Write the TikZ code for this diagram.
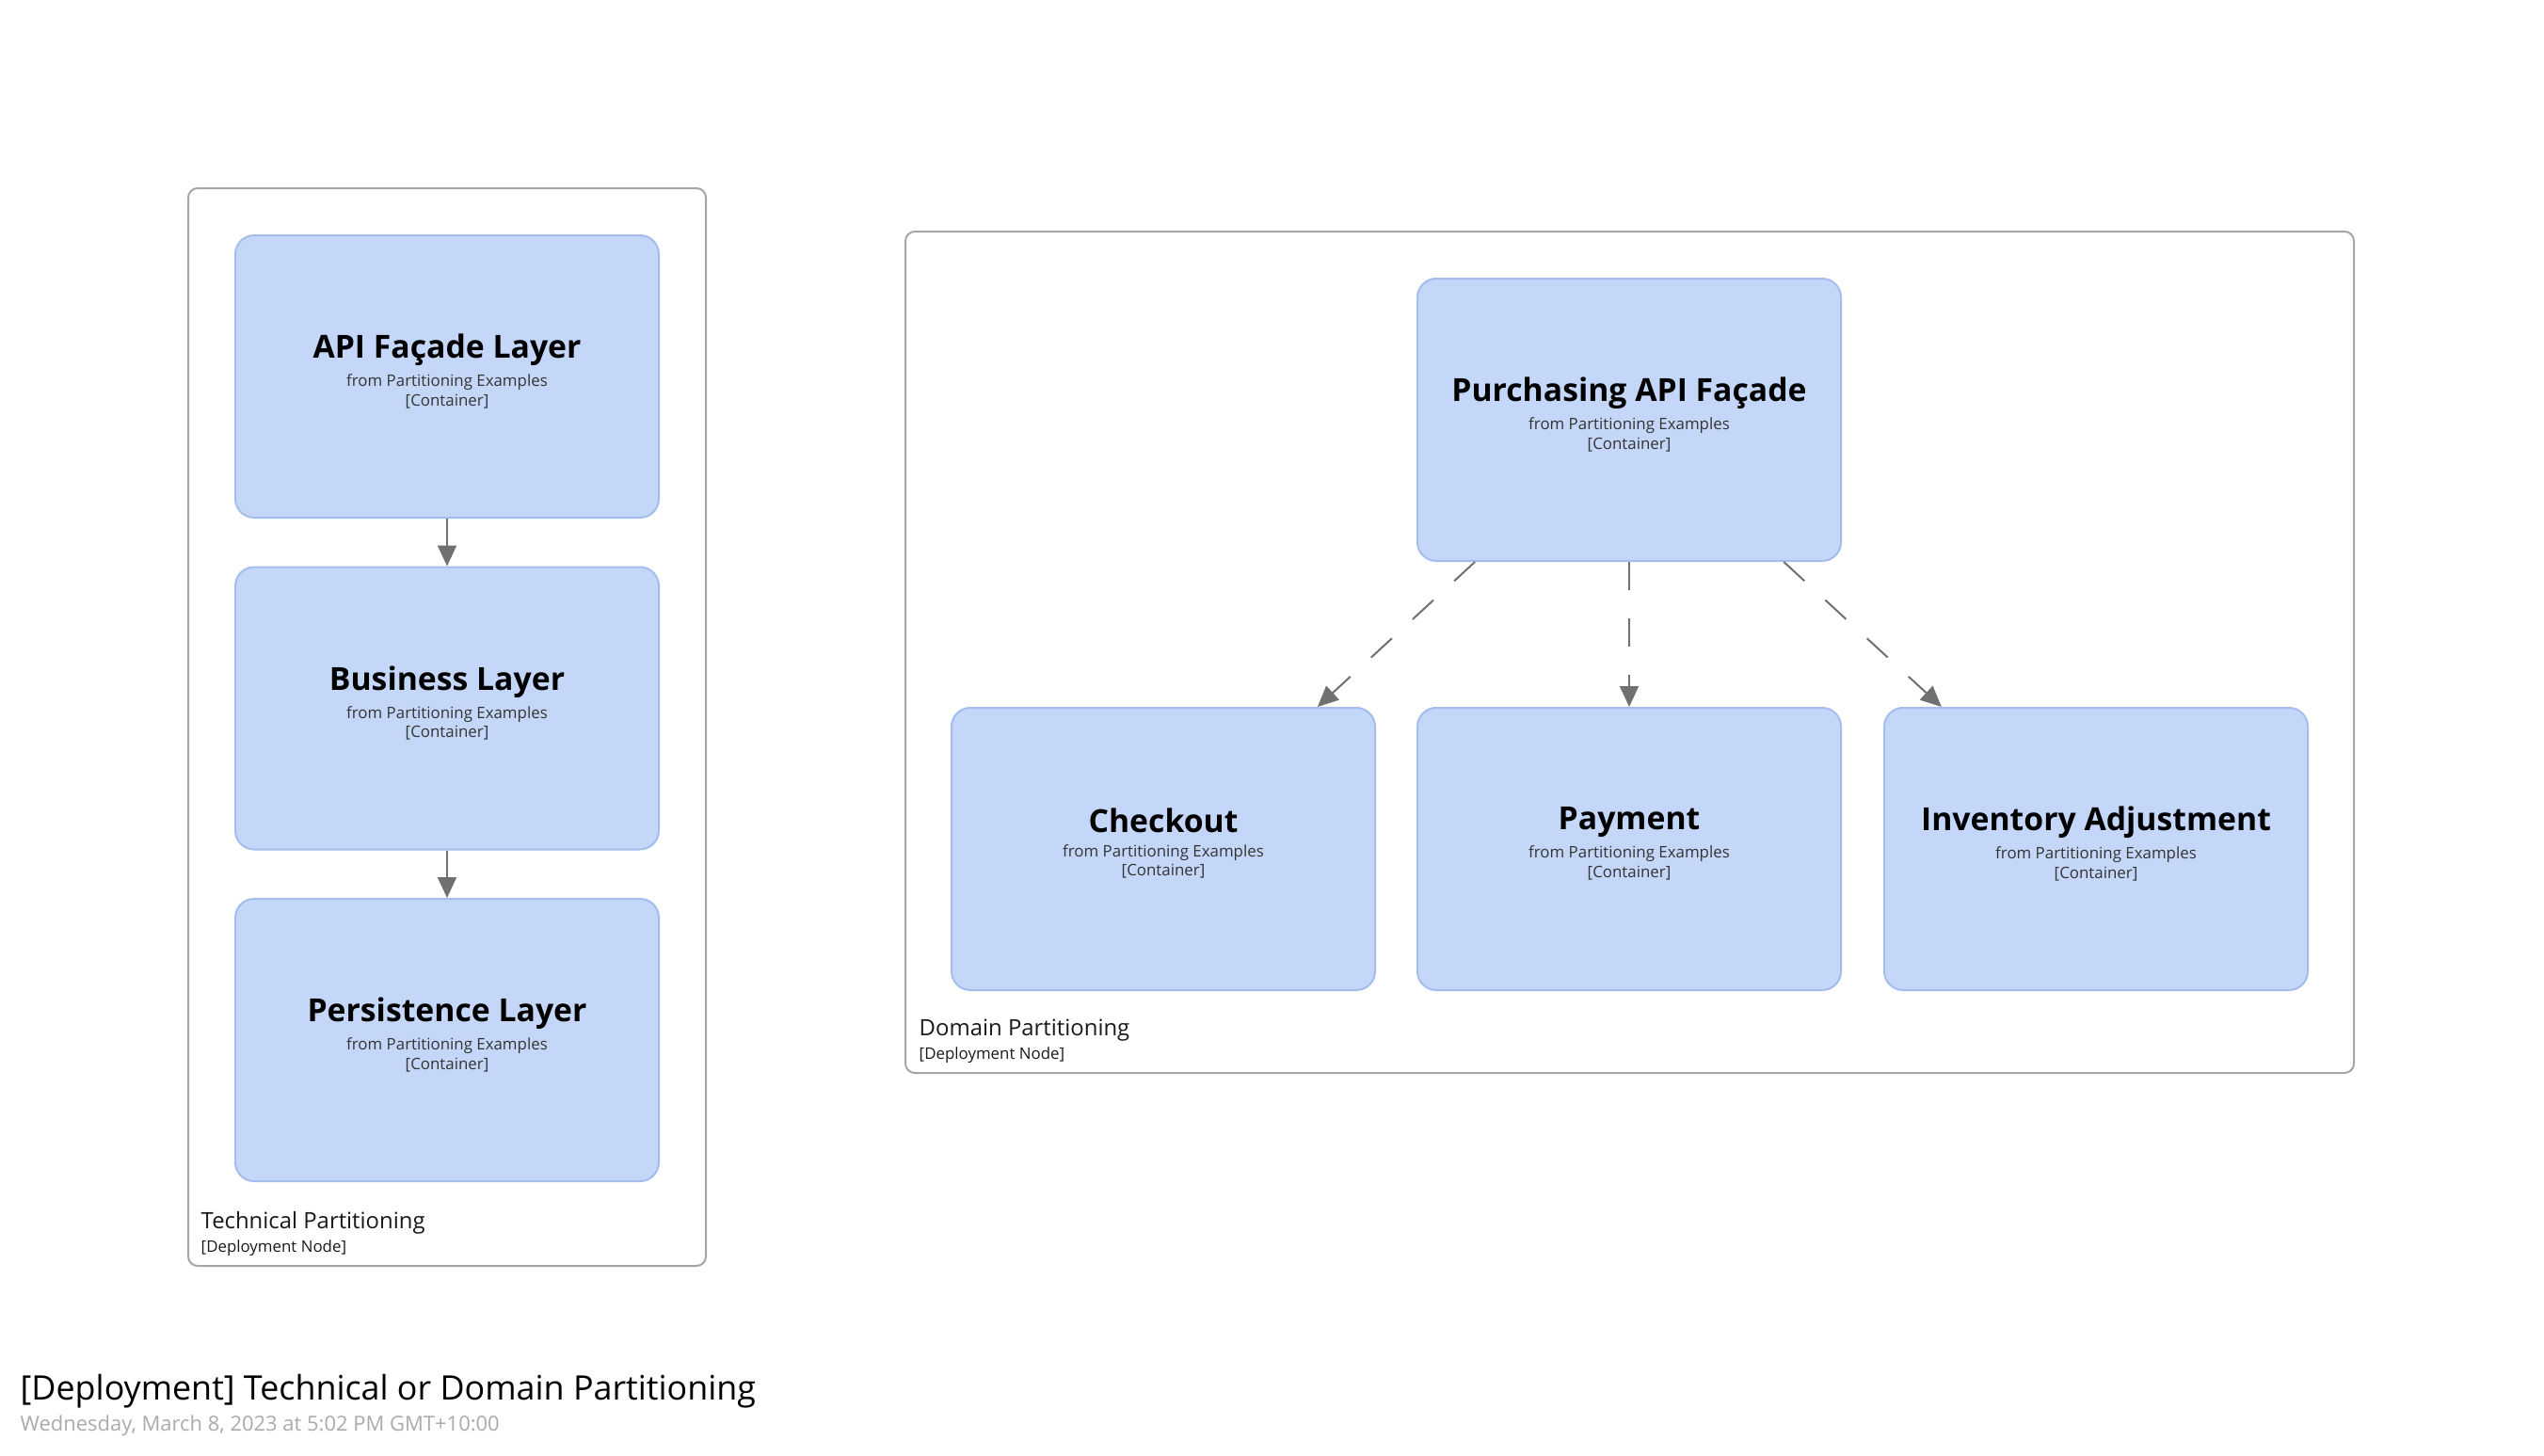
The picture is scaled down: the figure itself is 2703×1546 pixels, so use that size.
\documentclass[tikz,border=0pt]{standalone}
\usepackage{fontspec}
\setmainfont{Open Sans}
\usetikzlibrary{arrows.meta, positioning}

\definecolor{boxfill}{RGB}{197,215,248}
\definecolor{boxline}{RGB}{163,189,236}
\definecolor{nodeline}{RGB}{165,165,165}
\definecolor{arrowgray}{RGB}{112,112,112}
\definecolor{dategray}{RGB}{170,170,170}

\newcommand{\boxtext}[1]{{\fontsize{9.6}{11}\selectfont\bfseries\color{black} #1}\\[1.6pt]
    from Partitioning Examples\\ {[Container]}\\[-1.8pt]}

\begin{document}
\begin{tikzpicture}[
    x=0.1mm, y=-0.1mm,
    node distance=5.05mm,
    containerbox/.style={rectangle, draw=boxline, fill=boxfill, line width=0.2mm, rounded corners=2mm, minimum width=45mm, minimum height=30mm, align=center, inner sep=0pt, font=\fontsize{4.8}{5.8}\selectfont, text=black!80},
    depnode/.style={rectangle, draw=nodeline, line width=0.2mm, rounded corners=1mm, inner sep=0pt},
    deplabel/.style={align=left, inner sep=0pt, font=\fontsize{4.8}{6}\selectfont, text=black!90},
    arrow/.style={-{Triangle[length=2.2mm, width=2mm]}, line width=0.2mm, draw=arrowgray},
    async/.style={arrow, dash pattern=on 3mm off 3mm}
]
    \useasboundingbox (0,0) rectangle (2703,1546);

    % deployment nodes
    \node[depnode, minimum width=55mm, minimum height=114.5mm] (tech) at (475,772.5) {};
    \node[depnode, minimum width=153.9mm, minimum height=89.4mm] (domain) at (1731.5,693) {};

    \node[deplabel, anchor=south west] (techlabel) at ([shift={(14,-11)}]tech.south west)
        {{\fontsize{6.8}{8}\selectfont Technical Partitioning}\\[1pt] [Deployment Node]};
    \node[deplabel, anchor=south west] (domainlabel) at ([shift={(15,-11)}]domain.south west)
        {{\fontsize{6.8}{8}\selectfont Domain Partitioning}\\[1pt] [Deployment Node]};

    % technical partitioning
    \node[containerbox] (api) at (475,400) {\boxtext{API Façade Layer}};
    \node[containerbox, below=of api] (business) {\boxtext{Business Layer}};
    \node[containerbox, below=of business] (persist) {\boxtext{Persistence Layer}};

    \draw[arrow] (api) -- (business);
    \draw[arrow] (business) -- (persist);

    % domain partitioning
    \node[containerbox] (purchasing) at (1731,446) {\boxtext{Purchasing API Façade}};
    \node[containerbox, below=15.4mm of purchasing] (payment) {\boxtext{Payment}};
    \node[containerbox, left=4.3mm of payment] (checkout) {\boxtext{Checkout}};
    \node[containerbox, right=4.4mm of payment] (inventory) {\boxtext{Inventory Adjustment}};

    \draw[async] (purchasing) -- (checkout);
    \draw[async] (purchasing) -- (payment);
    \draw[async] (purchasing) -- (inventory);

    % title
    \node[anchor=base west, inner sep=0pt, font=\fontsize{10.2}{12}\selectfont] (title) at (21,1487)
        {[Deployment] Technical or Domain Partitioning};
    \node[anchor=base west, inner sep=0pt, font=\fontsize{6.25}{8}\selectfont, text=dategray] (date) at (21,1520)
        {Wednesday, March 8, 2023 at 5:02 PM GMT+10:00};
\end{tikzpicture}
\end{document}
